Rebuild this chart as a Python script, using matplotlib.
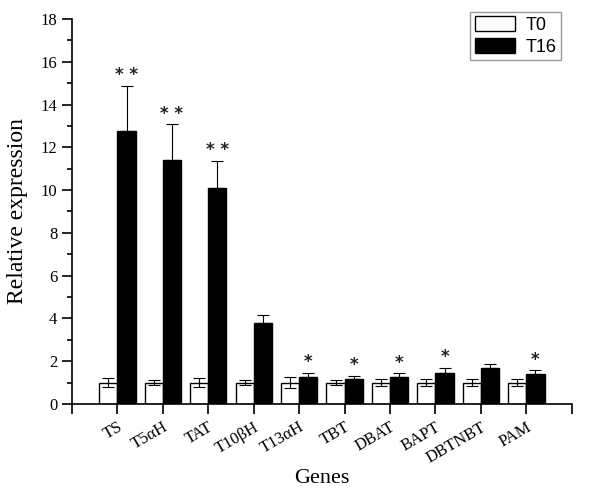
import matplotlib
matplotlib.use("Agg")
import matplotlib.pyplot as plt
import numpy as np
from matplotlib.ticker import MultipleLocator

genes = ["TS", "T5αH", "TAT", "T10βH", "T13αH", "TBT", "DBAT", "BAPT", "DBTNBT", "PAM"]
t0 = [1.0, 1.0, 1.0, 1.0, 1.0, 1.0, 1.0, 1.0, 1.0, 1.0]
t0_err = [0.2, 0.12, 0.2, 0.12, 0.25, 0.12, 0.17, 0.17, 0.17, 0.17]
t16 = [12.78, 11.4, 10.08, 3.8, 1.27, 1.18, 1.27, 1.47, 1.68, 1.41]
t16_err = [2.1, 1.67, 1.3, 0.38, 0.2, 0.13, 0.16, 0.23, 0.18, 0.16]
marks = ["* *", "* *", "* *", "", "*", "*", "*", "*", "", "*"]

serif = "Liberation Serif"
fig = plt.figure(figsize=(6.0, 4.93), dpi=100)
ax = fig.add_axes([0.12, 0.1805, 0.833, 0.781])

x = np.arange(1, len(genes) + 1)
w = 0.4
ekw = dict(ecolor="black", elinewidth=0.8, capsize=4.5, capthick=0.8)
ax.bar(x - w / 2, t0, w, color="white", edgecolor="black", linewidth=1.0, label="T0",
       yerr=t0_err, error_kw=ekw)
ax.bar(x + w / 2, t16, w, color="black", edgecolor="black", linewidth=1.0, label="T16",
       yerr=[[0] * len(t16), t16_err], error_kw=ekw)

for xi, v, e, m in zip(x, t16, t16_err, marks):
    if m:
        ax.text(xi + w / 2, v + e + 0.08, m, ha="center", va="bottom", fontsize=12,
                family="DejaVu Sans", fontweight="bold", color="#222222")

ax.set_xlim(0, 11)
ax.set_ylim(0, 18)
ax.set_xticks(list(range(0, 12)))
ax.set_xticklabels([""] + genes + [""], rotation=30, ha="right", rotation_mode="anchor",
                   family=serif, fontsize=12)
ax.yaxis.set_major_locator(MultipleLocator(2))
ax.yaxis.set_minor_locator(MultipleLocator(1))
ax.tick_params(axis="y", which="major", direction="out", length=7, width=1.2, labelsize=12)
ax.tick_params(axis="y", which="minor", direction="out", length=3.5, width=1.2)
ax.tick_params(axis="x", which="major", direction="out", length=7, width=1.2, pad=4)
for lab in ax.get_yticklabels():
    lab.set_family(serif)
for s in ["top", "right"]:
    ax.spines[s].set_visible(False)
for s in ["left", "bottom"]:
    ax.spines[s].set_linewidth(1.2)

ax.set_ylabel("Relative expression", family=serif, fontsize=17, labelpad=9)
ax.set_xlabel("Genes", family=serif, fontsize=16, labelpad=2)

leg = fig.legend(loc="upper right", bbox_to_anchor=(0.935, 0.976), frameon=True, fancybox=False,
                 edgecolor="gray", prop={"family": "Liberation Sans", "size": 13},
                 handlelength=2.2, handleheight=0.85, borderpad=0.25, labelspacing=0.25,
                 handletextpad=0.6, borderaxespad=0)
leg.get_frame().set_linewidth(1.0)

fig.savefig("out.png", dpi=100)
